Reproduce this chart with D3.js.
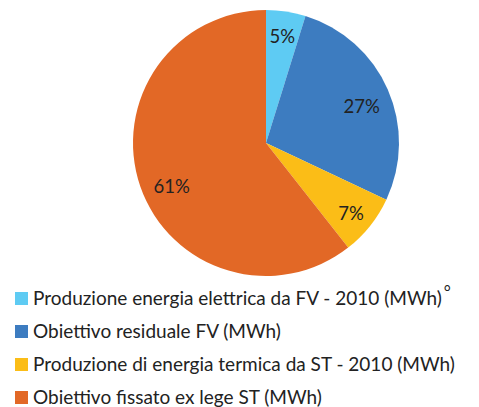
<!DOCTYPE html>
<html lang="it">
<head>
  <meta charset="UTF-8" />
  <title>Obiettivi FV e ST</title>
  <style>
    body { margin: 0; background: #fff; }
    svg { display: block; font-family: Lato, "Open Sans", sans-serif; }
    .lbl { font-size: 18.5px; fill: #222; }
    .leg { font-size: 19px; fill: #222; }
  </style>
  <script src="https://cdn.jsdelivr.net/npm/d3@7"></script>
</head>
<body>
  <svg id="chart" width="479" height="407"></svg>
  <script>
    // slice shares in percent, clockwise from 12 o'clock
    const categories = [
      'Produzione energia elettrica da FV - 2010 (MWh)',
      'Obiettivo residuale FV (MWh)',
      'Produzione di energia termica da ST - 2010 (MWh)',
      'Obiettivo fissato ex lege ST (MWh)'
    ];
    const values = [4.8, 27.2, 7.4, 60.6];
    const valueLabels = ['5%', '27%', '7%', '61%'];
    const colors = ['#5ecbf3', '#3d7cc0', '#fbbd17', '#e26826'];

    const svg = d3.select('#chart');
    const cx = 266, cy = 143, r = 133;

    const pie = d3.pie().sort(null).value(d => d.v);
    const arcs = pie(values.map((v, i) => ({ v, i })));
    const arc = d3.arc().innerRadius(0).outerRadius(r);

    const g = svg.append('g').attr('transform', `translate(${cx},${cy})`);

    g.selectAll('path').data(arcs).enter().append('path')
      .attr('d', arc)
      .attr('fill', d => colors[d.data.i]);

    // label placement tweaks (radius factor, angle shift in degrees) to sit like the original
    const labelR = [0.81, 0.77, 0.83, 0.78];
    const labelShift = [0, 3, 1, -5.5];
    g.selectAll('text').data(arcs).enter().append('text')
      .attr('class', 'lbl')
      .attr('transform', d => {
        const i = d.data.i;
        const a = (d.startAngle + d.endAngle) / 2 + labelShift[i] * Math.PI / 180;
        const lr = r * labelR[i];
        const pt = d3.arc().innerRadius(lr).outerRadius(lr).centroid({ startAngle: a, endAngle: a });
        return `translate(${pt})`;
      })
      .attr('text-anchor', 'middle')
      .attr('dy', '0.35em')
      .text(d => valueLabels[d.data.i]);

    const leg = svg.append('g').attr('transform', 'translate(15,292)');
    const rowY = d3.scalePoint().domain(d3.range(categories.length)).range([0, 99]);
    const rows = leg.selectAll('g').data(categories).enter().append('g')
      .attr('transform', (d, i) => `translate(0,${rowY(i)})`);
    rows.append('rect').attr('width', 13).attr('height', 13)
      .attr('fill', (d, i) => colors[i]);
    rows.append('text').attr('class', 'leg')
      .attr('x', 18).attr('y', 6.5).attr('dy', '0.35em')
      .text(d => d)
      .each(function (d, i) {
        if (i === 0) {
          d3.select(this).append('tspan')
            .attr('dx', 2).attr('dy', '-0.4em')
            .style('font-size', '17px')
            .text('°');
        }
      });
  </script>
</body>
</html>
